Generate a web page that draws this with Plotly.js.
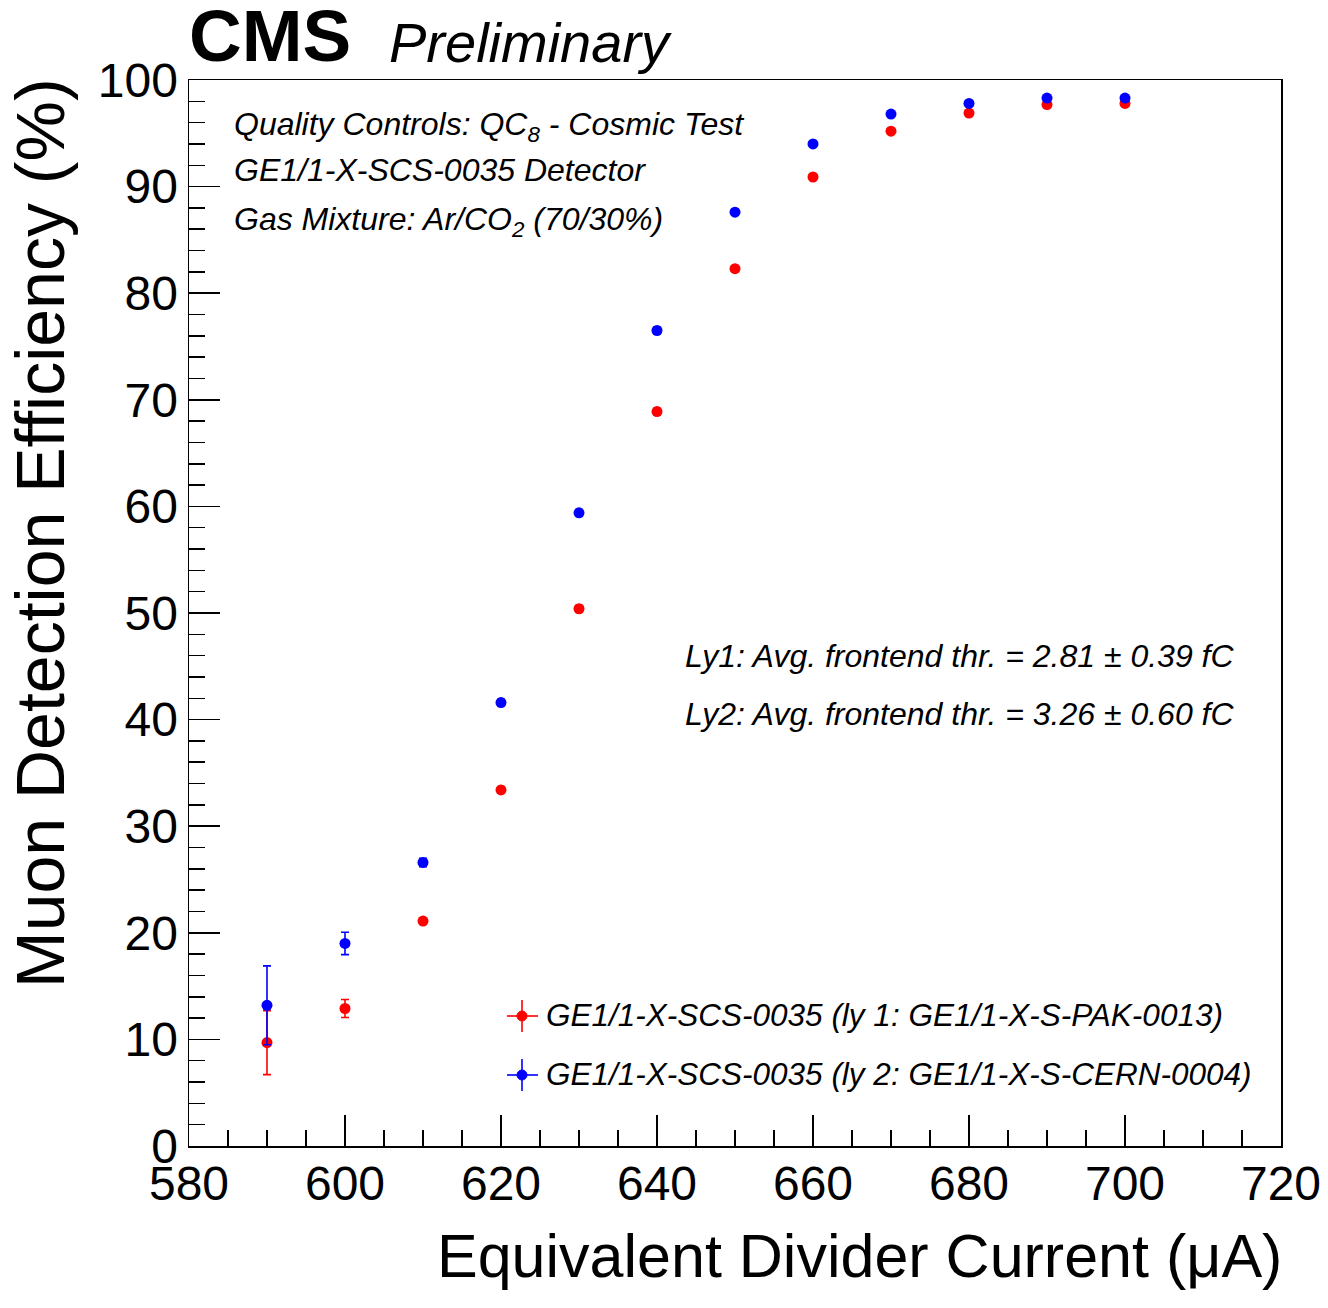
<!DOCTYPE html>
<html>
<head>
<meta charset="utf-8">
<script src="https://cdn.plot.ly/plotly-3.0.1.min.js"></script>
<style>
  html, body { margin: 0; padding: 0; background: #fff; }
  #plot { width: 1328px; height: 1308px; }
</style>
</head>
<body>
<div id="plot"></div>
<script>
// **********************************************************************************************
// DATA

const current = [590, 600, 610, 620, 630, 640, 650, 660, 670, 680, 690, 700];

const eff_ly1 = [9.7, 12.9, 21.1, 33.4, 50.4, 68.9, 82.3, 90.9, 95.2, 96.9, 97.7, 97.8];
const err_ly1 = [3.0, 0.85, 0.3, 0.3, 0.3, 0.3, 0.25, 0.2, 0.2, 0.15, 0.15, 0.15];

const eff_ly2 = [13.2, 19.0, 26.6, 41.6, 59.4, 76.5, 87.6, 94.0, 96.8, 97.8, 98.3, 98.3];
const err_ly2 = [3.7, 1.05, 0.4, 0.3, 0.3, 0.3, 0.25, 0.2, 0.15, 0.15, 0.1, 0.1];

const legend_labels = [
    'GE1/1-X-SCS-0035 (ly 1: GE1/1-X-S-PAK-0013)',
    'GE1/1-X-SCS-0035 (ly 2: GE1/1-X-S-CERN-0004)'
];

// **********************************************************************************************
// HELPERS (pixel -> paper, frame is 189..1281 x 80..1146)

const FONT = '"Liberation Sans", Arial, Helvetica, sans-serif';
const px = (x) => (x - 189) / 1092;
const py = (y) => (1146 - y) / 1066;

const make_trace = (name, y, err, color) => ({
    name: name,
    type: 'scatter',
    mode: 'markers',
    x: current,
    y: y,
    showlegend: false,
    marker: { color: color, size: 11, symbol: 'circle' },
    error_y: { type: 'data', array: err, visible: true, color: color, thickness: 1.6, width: 4 }
});

const trace1 = make_trace(legend_labels[0], eff_ly1, err_ly1, '#ff0000');
const trace2 = make_trace(legend_labels[1], eff_ly2, err_ly2, '#0000ff');

const data = [trace1, trace2];

// **********************************************************************************************
// TEXTS

const txt = (text, x, y, opts = {}) => Object.assign({
    text: text,
    xref: 'paper', yref: 'paper',
    x: px(x), y: py(y),
    xanchor: 'left', yanchor: 'middle',
    showarrow: false,
    font: { family: FONT, size: 32, color: '#000' }
}, opts);

const legend_font = { family: FONT, size: 31.5, color: '#000' };

const annotations = [
    txt('<b>CMS</b>', 187, 36, { font: { family: FONT, size: 73, color: '#000' } }),
    txt('<i>Preliminary</i>', 387, 42, { font: { family: FONT, size: 56, color: '#000' } }),
    txt('<i>Quality Controls: QC<sub>8</sub> - Cosmic Test</i>', 232, 126),
    txt('<i>GE1/1-X-SCS-0035 Detector</i>', 232, 170),
    txt('<i>Gas Mixture: Ar/CO<sub>2</sub> (70/30%)</i>', 232, 222),
    txt('<i>Ly1: Avg. frontend thr. = 2.81 ± 0.39 fC</i>', 683, 656),
    txt('<i>Ly2: Avg. frontend thr. = 3.26 ± 0.60 fC</i>', 683, 714),
    txt('<i>' + legend_labels[0] + '</i>', 544, 1015, { font: legend_font }),
    txt('<i>' + legend_labels[1] + '</i>', 544, 1074, { font: legend_font }),
    txt('Muon Detection Efficiency (%)', 40, 76, {
        xanchor: 'center', yanchor: 'top', textangle: -90,
        font: { family: FONT, size: 68, color: '#000' }
    }),
    txt('Equivalent Divider Current (μA)', 1284, 1256, {
        xanchor: 'right',
        font: { family: FONT, size: 61, color: '#000' }
    })
];

// legend crosses (ROOT style marker + error bar)
const legend_shapes = [];
[['#ff0000', 1016], ['#0000ff', 1075]].forEach(([c, y]) => {
    legend_shapes.push({ type: 'line', xref: 'paper', yref: 'paper', x0: px(507), x1: px(538), y0: py(y), y1: py(y), line: { color: c, width: 1.6 } });
    legend_shapes.push({ type: 'line', xref: 'paper', yref: 'paper', x0: px(522), x1: px(522), y0: py(y - 16), y1: py(y + 16), line: { color: c, width: 1.6 } });
    legend_shapes.push({ type: 'circle', xref: 'paper', yref: 'paper', x0: px(517), x1: px(527), y0: py(y - 5), y1: py(y + 5), fillcolor: c, line: { color: c, width: 1 } });
});

// **********************************************************************************************
// LAYOUT

const axis_common = {
    showgrid: false,
    zeroline: false,
    showline: true,
    mirror: true,
    linecolor: '#000',
    linewidth: 1.5,
    ticks: 'inside',
    tickcolor: '#000',
    tickwidth: 1.5,
    ticklen: 31,
    tickfont: { family: FONT, size: 48, color: '#000' }
};

const layout = {
    width: 1328,
    height: 1308,
    margin: { t: 80, r: 47, b: 162, l: 189, pad: 0 },
    paper_bgcolor: '#fff',
    plot_bgcolor: '#fff',
    showlegend: false,
    xaxis: Object.assign({}, axis_common, {
        range: [580, 720],
        tick0: 580,
        dtick: 20,
        ticklabelstandoff: -5,
        minor: { dtick: 5, ticks: 'inside', ticklen: 16, tickcolor: '#000', tickwidth: 1.5 }
    }),
    yaxis: Object.assign({}, axis_common, {
        range: [0, 100],
        tick0: 0,
        dtick: 10,
        ticklabelstandoff: 0,
        minor: { dtick: 2, ticks: 'inside', ticklen: 16, tickcolor: '#000', tickwidth: 1.5 }
    }),
    annotations: annotations,
    shapes: legend_shapes
};

const config = { displayModeBar: false, staticPlot: true };

Plotly.newPlot(document.getElementById('plot'), data, layout, config);
</script>
</body>
</html>
